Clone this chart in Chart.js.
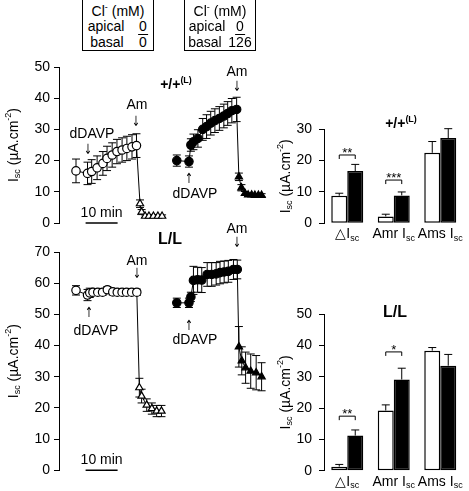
<!DOCTYPE html>
<html>
<head>
<meta charset="utf-8">
<script src="https://cdn.jsdelivr.net/npm/chart.js@4.4.0/dist/chart.umd.min.js"></script>
<style>
    body { margin: 0; background: #fff; }
    #wrap { position: relative; width: 469px; height: 491px; overflow: hidden; font-family: "Liberation Sans", Arial, sans-serif; color: #000; }
    canvas { position: absolute; left: 0; top: 0; }
    .t { position: absolute; font-size: 14px; line-height: 1; white-space: nowrap; transform: translate(-50%, -50%); }
    .b { font-weight: bold; }
    .arr { font-size: 14px; font-family: "DejaVu Sans", sans-serif; transform: translate(-50%, -50%) scaleX(0.7); }
    .sup { font-size: 9px; position: relative; top: -6px; }
    .box { position: absolute; border: 1px solid #000; background: #fff; }
    .ul { border-bottom: 1px solid #000; padding: 0 1px; }
</style>
</head>
<body>
<div id="wrap">
    <canvas id="topLine" width="469" height="491"></canvas>
    <canvas id="botLine" width="469" height="491"></canvas>
    <canvas id="topBar" width="469" height="491"></canvas>
    <canvas id="botBar" width="469" height="491"></canvas>

    <!-- Cl- boxes -->
    <div class="box" style="left:82px;top:-1px;width:70px;height:50px"></div>
    <div class="t" style="left:118px;top:11px">Cl<span class="sup">-</span> (mM)</div>
    <div class="t" style="left:106px;top:26px">apical</div>
    <div class="t" style="left:143px;top:26px"><span class="ul">0</span></div>
    <div class="t" style="left:107px;top:42px">basal</div>
    <div class="t" style="left:143px;top:42px">0</div>

    <div class="box" style="left:184px;top:-1px;width:70px;height:50px"></div>
    <div class="t" style="left:220px;top:11px">Cl<span class="sup">-</span> (mM)</div>
    <div class="t" style="left:207px;top:26px">apical</div>
    <div class="t" style="left:240px;top:26px"><span class="ul">0</span></div>
    <div class="t" style="left:205px;top:42px">basal</div>
    <div class="t" style="left:240px;top:42px">126</div>

    <!-- +/+(L) time course -->
    <div class="t b" style="left:176px;top:84px">+/+<span class="sup">(L)</span></div>
    <div class="t" style="left:92px;top:133px">dDAVP</div>
    <div class="t arr" style="left:88px;top:149px">↓</div>
    <div class="t" style="left:137px;top:104px">Am</div>
    <div class="t arr" style="left:136px;top:121px">↓</div>
    <div class="t arr" style="left:189px;top:178px">↑</div>
    <div class="t" style="left:195px;top:193px">dDAVP</div>
    <div class="t" style="left:237px;top:71px">Am</div>
    <div class="t arr" style="left:237px;top:86px">↓</div>

    <!-- L/L time course -->
    <div class="t b" style="left:170px;top:239px;font-size:16px">L/L</div>
    <div class="t" style="left:137px;top:260px">Am</div>
    <div class="t arr" style="left:137px;top:273px">↓</div>
    <div class="t arr" style="left:89px;top:312px">↑</div>
    <div class="t" style="left:96px;top:330px">dDAVP</div>
    <div class="t arr" style="left:189px;top:325px">↑</div>
    <div class="t" style="left:195px;top:339px">dDAVP</div>
    <div class="t" style="left:237px;top:228px">Am</div>
    <div class="t arr" style="left:237px;top:242px">↓</div>

    <!-- bar panels -->
    <div class="t b" style="left:401px;top:123px">+/+<span class="sup">(L)</span></div>
    <div class="t b" style="left:395px;top:312px;font-size:16px">L/L</div>
</div>
<script>
var FONT = '"Liberation Sans", Arial, sans-serif';

// +/+(L) time course, minutes (open = 0/0 Cl-, closed = 0/126 Cl-)
var topOpenT = [0, 3.6, 4.9, 6.6, 8.4, 9.7, 11.3, 12.8, 14.4, 15.9, 17.5, 18.9, 20.0, 20.5, 21.6, 22.8, 24.2, 25.6, 26.9];
var topOpenV = [16.7, 15.9, 16.5, 17.7, 19.1, 20.7, 21.8, 22.9, 23.4, 23.9, 24.4, 24.8, 6.2, 3.5, 2.2, 2.2, 2.2, 2.2, 2.2];
var topOpenE = [3.8, 3.6, 3.8, 3.8, 3.8, 3.9, 3.9, 3.9, 3.9, 3.9, 3.9, 3.8, 1.2, 0.8, 0.4, 0.4, 0.4, 0.4, 0.4];
var topOpenCircles = 12;

var topClosedT = [31.5, 35.3, 35.9, 36.7, 38.1, 39.6, 40.8, 42.1, 43.4, 44.8, 46.2, 47.4, 48.7, 50.2, 50.9, 51.7, 52.8, 53.8, 54.9, 55.9, 57.0, 58.0];
var topClosedV = [20, 19.7, 25, 26, 27.1, 30, 30.9, 32, 32.8, 33.5, 34.3, 35.1, 36, 36.4, 14.8, 11.3, 9.5, 9, 9, 8.9, 8.9, 8.9];
var topClosedE = [1.8, 1.8, 2, 2.5, 2.8, 3.5, 3.8, 3.8, 3.8, 3.8, 3.8, 3.8, 3.9, 3.9, 1.2, 1, 0.6, 0.5, 0.5, 0.5, 0.5, 0.5];
var topClosedCircles = 14;

// L/L time course
var botOpenT = [0, 3.6, 4.3, 5.3, 6.8, 8.3, 9.8, 11.5, 12.9, 14.4, 15.8, 17.4, 19.0, 19.8, 20.5, 22.1, 23.7, 25.2, 26.7];
var botOpenV = [57.7, 56.2, 56.9, 57.1, 57.1, 57.1, 57.9, 57.2, 57.1, 57.1, 57.1, 57.1, 57.1, 26.5, 23.8, 20.9, 19.8, 19.0, 19.0];
var botOpenE = [1.5, 1.8, 1.5, 1, 1, 1, 1, 1, 1, 1, 1, 1, 1, 3, 2.2, 2, 1.8, 1.8, 1.8];
var botOpenCircles = 13;

var botClosedT = [31.5, 35.3, 35.9, 36.7, 38.0, 39.3, 41.0, 42.4, 43.8, 45.0, 46.3, 47.6, 49.2, 50.4, 50.9, 51.8, 53.0, 54.6, 56.3, 58.0];
var botClosedV = [53.7, 53.7, 55.6, 60.9, 61.1, 61.0, 62.8, 62.8, 63.0, 63.4, 63.6, 63.8, 64.4, 64.4, 39.6, 35.1, 32.9, 31.8, 31.3, 30.0];
var botClosedE = [1.5, 1.5, 1.5, 4.5, 4, 4, 3.8, 3.8, 3.6, 3.6, 3.5, 3.5, 3.2, 3, 6.5, 4.5, 5, 5.5, 5.5, 4.5];
var botClosedCircles = 14;

// bar panels
var barCats = ['\u25B3I', 'Amr I', 'Ams I'];
var topWhite = [8.8, 2.2, 22.5];
var topWhiteErr = [0.8, 0.7, 3.6];
var topBlack = [16.7, 8.9, 27.2];
var topBlackErr = [2.1, 1.1, 3.0];
var botWhite = [1.3, 19.2, 38.3];
var botWhiteErr = [0.7, 1.8, 1.0];
var botBlack = [11.2, 29.1, 33.5];
var botBlackErr = [1.8, 3.6, 3.6];

var topLineTicks = [0, 10, 20, 30, 40, 50];
var botLineTicks = [0, 10, 20, 30, 40, 50, 60, 70];

var yTitleParts = [['I'], ['sc', 'sub'], [' (\u00B5A.cm'], ['-2', 'sup'], [')']];

function richText(ctx, parts, x, y, rot, size) {
    size = size || 14;
    var small = Math.round(size * 0.65);
    ctx.save();
    ctx.translate(x, y);
    if (rot) ctx.rotate(rot);
    ctx.textBaseline = 'middle';
    ctx.textAlign = 'left';
    ctx.fillStyle = '#000';
    var w = 0;
    parts.forEach(function (p) {
        ctx.font = (p[1] ? small : size) + 'px ' + FONT;
        w += ctx.measureText(p[0]).width;
    });
    var cx = -w / 2;
    parts.forEach(function (p) {
        ctx.font = (p[1] ? small : size) + 'px ' + FONT;
        var dy = p[1] == 'sub' ? 4 : (p[1] == 'sup' ? -5 : 0);
        ctx.fillText(p[0], cx, dy);
        cx += ctx.measureText(p[0]).width;
    });
    ctx.restore();
}

var errorBars = {
    id: 'errorBars',
    beforeDatasetsDraw: function (chart) {
        var ctx = chart.ctx;
        var ys = chart.scales.y;
        chart.data.datasets.forEach(function (ds, i) {
            if (!ds.err) return;
            var meta = chart.getDatasetMeta(i);
            var w = ds.capW || 4;
            ctx.save();
            ctx.strokeStyle = '#000';
            ctx.lineWidth = 1;
            meta.data.forEach(function (el, j) {
                var v = typeof ds.data[j] == 'object' ? ds.data[j].y : ds.data[j];
                var top = ys.getPixelForValue(v + ds.err[j]);
                var bot = ds.upOnly ? ys.getPixelForValue(v) : ys.getPixelForValue(v - ds.err[j]);
                ctx.beginPath();
                ctx.moveTo(el.x, top);
                ctx.lineTo(el.x, bot);
                ctx.moveTo(el.x - w, top);
                ctx.lineTo(el.x + w, top);
                if (!ds.upOnly) {
                    ctx.moveTo(el.x - w, bot);
                    ctx.lineTo(el.x + w, bot);
                }
                ctx.stroke();
            });
            ctx.restore();
        });
    }
};

var extras = {
    id: 'extras',
    afterDraw: function (chart, args, opts) {
        var ctx = chart.ctx;
        var area = chart.chartArea;
        var xs = chart.scales.x;
        var ys = chart.scales.y;
        richText(ctx, yTitleParts, opts.titleX, (area.top + area.bottom) / 2, -Math.PI / 2);

        if (opts.scaleBar) {
            var x1 = xs.getPixelForValue(opts.scaleBar[0]);
            var x2 = xs.getPixelForValue(opts.scaleBar[0] + opts.scaleBar[1]);
            ctx.save();
            ctx.strokeStyle = '#000';
            ctx.lineWidth = 1.5;
            ctx.beginPath();
            ctx.moveTo(x1, area.bottom);
            ctx.lineTo(x2, area.bottom);
            ctx.stroke();
            ctx.restore();
            richText(ctx, [['10 min']], (x1 + x2) / 2, area.bottom - 10, 0);
        }

        if (opts.barLabels) {
            chart.data.labels.forEach(function (lab, i) {
                richText(ctx, [[lab], ['sc', 'sub']], xs.getPixelForValue(i), area.bottom + 11, 0);
            });
        }

        if (opts.brackets) {
            var m0 = chart.getDatasetMeta(0);
            var m1 = chart.getDatasetMeta(1);
            opts.brackets.forEach(function (b) {
                var xa = m0.data[b[0]].x;
                var xb = m1.data[b[0]].x;
                var yp = ys.getPixelForValue(b[1]);
                ctx.save();
                ctx.strokeStyle = '#000';
                ctx.lineWidth = 1;
                ctx.beginPath();
                ctx.moveTo(xa, yp + 4);
                ctx.lineTo(xa, yp);
                ctx.lineTo(xb, yp);
                ctx.lineTo(xb, yp + 4);
                ctx.stroke();
                ctx.fillStyle = '#000';
                ctx.font = '13px ' + FONT;
                ctx.textAlign = 'center';
                ctx.textBaseline = 'alphabetic';
                ctx.fillText(b[2], (xa + xb) / 2, yp + 2);
                ctx.restore();
            });
        }
    }
};

function points(t, v) {
    return t.map(function (x, i) { return { x: x, y: v[i] }; });
}

function markStyles(n, circles) {
    var s = [];
    for (var i = 0; i < n; i++) s.push(i < circles ? 'circle' : 'triangle');
    return s;
}

function series(t, v, e, circles, fill) {
    return {
        data: points(t, v),
        err: e,
        capW: 4,
        borderColor: '#000',
        borderWidth: 1,
        tension: 0,
        fill: false,
        pointStyle: markStyles(t.length, circles),
        pointRadius: 4.2,
        pointBorderWidth: 1.2,
        pointBorderColor: '#000',
        pointBackgroundColor: fill
    };
}

function yAxis(max, ticks, width, pad) {
    return {
        min: 0,
        max: max,
        afterBuildTicks: function (s) { s.ticks = ticks.map(function (v) { return { value: v }; }); },
        afterFit: function (s) { s.width = width; },
        ticks: { color: '#000', font: { family: FONT, size: 14 }, padding: pad },
        grid: { drawOnChartArea: false, drawTicks: true, tickLength: 5, color: '#000', lineWidth: 1 },
        border: { display: true, color: '#000', width: 1 }
    };
}

function timeChart(id, max, ticks, top, bottom, sets) {
    // x in minutes: t=0 at x=76px, 3.2 px per minute
    new Chart(document.getElementById(id), {
        type: 'line',
        data: { datasets: sets },
        options: {
            animation: false,
            responsive: false,
            layout: { padding: { left: 0, top: top, right: 469 - 283, bottom: 491 - bottom } },
            plugins: {
                legend: { display: false },
                tooltip: { enabled: false },
                extras: { titleX: 14, scaleBar: [3, 10] }
            },
            scales: {
                x: { type: 'linear', display: false, min: -17 / 3.2, max: -17 / 3.2 + 70 },
                y: yAxis(max, ticks, 59, 4)
            }
        },
        plugins: [errorBars, extras]
    });
}

function barChart(id, max, top, bottom, white, whiteErr, black, blackErr, brackets) {
    new Chart(document.getElementById(id), {
        type: 'bar',
        data: {
            labels: barCats,
            datasets: [
                { data: white, err: whiteErr, upOnly: true, capW: 4, backgroundColor: '#fff', borderColor: '#000', borderWidth: 1.5, borderSkipped: false },
                { data: black, err: blackErr, upOnly: true, capW: 4, backgroundColor: '#000', borderColor: '#000', borderWidth: 1.5, borderSkipped: false }
            ]
        },
        options: {
            animation: false,
            responsive: false,
            categoryPercentage: 0.688,
            barPercentage: 1,
            layout: { padding: { left: 0, top: top, right: 469 - 463.5, bottom: 491 - bottom } },
            plugins: {
                legend: { display: false },
                tooltip: { enabled: false },
                extras: { titleX: 286, barLabels: true, brackets: brackets }
            },
            scales: {
                x: { display: false },
                y: yAxis(max, [0, 10, 20, 30, 40, 50].filter(function (v) { return v <= max; }), 324, 7)
            }
        },
        plugins: [errorBars, extras]
    });
}

timeChart('topLine', 50, topLineTicks, 67, 223, [
    series(topOpenT, topOpenV, topOpenE, topOpenCircles, '#fff'),
    series(topClosedT, topClosedV, topClosedE, topClosedCircles, '#000')
]);
timeChart('botLine', 70, botLineTicks, 252, 470.3, [
    series(botOpenT, botOpenV, botOpenE, botOpenCircles, '#fff'),
    series(botClosedT, botClosedV, botClosedE, botClosedCircles, '#000')
]);
barChart('topBar', 30, 129.3, 223.3, topWhite, topWhiteErr, topBlack, topBlackErr,
    [[0, 21.8, '**'], [1, 13.8, '***']]);
barChart('botBar', 50, 314, 470.7, botWhite, botWhiteErr, botBlack, botBlackErr,
    [[0, 17.4, '**'], [1, 37.9, '*']]);
</script>
</body>
</html>
